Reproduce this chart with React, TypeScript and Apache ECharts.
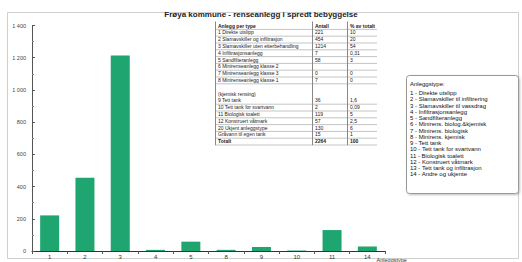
import React, { useEffect, useRef } from "react";
import * as echarts from "echarts";

const titleText = "Frøya kommune - renseanlegg i spredt bebyggelse";
const categories = ["1", "2", "3", "4", "5", "8", "9", "10", "11", "14"];
const counts = [221, 454, 1214, 7, 58, 7, 25, 3, 130, 28];
const xAxisName = "Anleggstype";

const tableHeader = ["Anlegg per type", "Antall", "% av totalt"];
const tableNames = [
  "1 Direkte utslipp",
  "2 Slamavskiller og infiltrasjon",
  "3 Slamavskiller uten etterbehandling",
  "4 Infiltrasjonsanlegg",
  "5 Sandfilteranlegg",
  "6 Minirenseanlegg klasse 2",
  "7 Minirenseanlegg klasse 3",
  "8 Minirenseanlegg klasse 1",
  "9 Tett tank",
  "10 Tett tank for svartvann",
  "11 Biologisk toalett",
  "12 Konstruert våtmark",
  "20 Ukjent anleggstype",
  "Gråvann til egen tank",
  "Totalt",
];
const tableCounts = ["221", "454", "1214", "7", "58", "", "0", "7", "36", "2", "119", "57", "130", "15", "2264"];
const tablePercents = ["10", "20", "54", "0,31", "3", "", "0", "0", "1,6", "0,09", "5", "2,5", "6", "1", "100"];
const tableRowLine = [1, 2, 3, 4, 5, 6, 7, 8, 11, 12, 13, 14, 15, 16, 17];
const tableWrapText = "(kjemisk rensing)";

const legendTitle = "Anleggstype:";
const legendLines = [
  "1 - Direkte utslipp",
  "2 - Slamavskiller til infiltrering",
  "3 - Slamavskiller til vassdrag",
  "4 - Infiltrasjonsanlegg",
  "5 - Sandfilteranlegg",
  "6 - Minirens. biolog.&kjemisk",
  "7 - Minirens. biologisk",
  "8 - Minirens. kjemisk",
  "9 - Tett tank",
  "10 - Tett tank for svartvann",
  "11 - Biologisk toalett",
  "12 - Konstruert våtmark",
  "13 - Tett tank og infiltrasjon",
  "14 - Andre og ukjente",
];

function fmt(v: number) {
  if (v >= 1000) {
    return Math.floor(v / 1000) + " " + String(v % 1000).padStart(3, "0");
  }
  return String(v);
}

export default function App() {
  const ref = useRef<HTMLDivElement>(null);
  useEffect(() => {
    if (!ref.current) return;
    const chart = echarts.init(ref.current, null, { renderer: "svg" });
    const font = "Liberation Sans, Arial, sans-serif";
    const graphics: any[] = [];
    // outer frame
    graphics.push({
      type: "rect",
      shape: { x: 7.5, y: 12.5, width: 511, height: 246 },
      style: { fill: "none", stroke: "#cfcfcf", lineWidth: 1 },
      silent: true,
      z: -1,
    });
    // table
    const tX = 215, tC1 = 312, tC2 = 347, tR = 377, tTop = 21.5, rowH = 6.8, y0 = 25.5;
    const tBottom = y0 + 17 * rowH + 4;
    graphics.push({
      type: "rect",
      shape: { x: tX, y: tTop, width: tR - tX, height: tBottom - tTop },
      style: { fill: "#fff", stroke: "none" },
      z: 5,
    });
    [tX, tC1, tC2].forEach((x) => {
      graphics.push({
        type: "line",
        shape: { x1: x + 0.5, y1: tTop, x2: x + 0.5, y2: tBottom },
        style: { stroke: "#555", lineWidth: 0.7 },
        z: 6,
      });
    });
    const addRow = (line: number, cells: string[], bold: boolean) => {
      const y = y0 + line * rowH;
      const xs = [tX + 3, tC1 + 3, tC2 + 3];
      cells.forEach((c, i) => {
        if (!c) return;
        graphics.push({
          type: "text",
          x: xs[i],
          y,
          style: {
            text: c,
            fontSize: 5,
            fontWeight: bold ? "bold" : "normal",
            fontFamily: font,
            fill: "#222",
            verticalAlign: "middle",
          },
          z: 7,
        });
      });
      graphics.push({
        type: "line",
        shape: { x1: tX, y1: y + rowH / 2 + 0.5, x2: tR, y2: y + rowH / 2 + 0.5 },
        style: { stroke: "#888", lineWidth: 0.5 },
        z: 6,
      });
    };
    addRow(0, tableHeader, true);
    tableNames.forEach((n, i) => {
      addRow(tableRowLine[i], [n, tableCounts[i], tablePercents[i]], i === tableNames.length - 1);
    });
    graphics.push({
      type: "text",
      x: tX + 3,
      y: y0 + 10 * rowH,
      style: { text: tableWrapText, fontSize: 5, fontFamily: font, fill: "#222", verticalAlign: "middle" },
      z: 7,
    });
    // legend box
    const lX = 406, lY = 75;
    graphics.push({
      type: "rect",
      shape: { x: lX + 0.5, y: lY + 0.5, width: 112, height: 118, r: 3 },
      style: {
        fill: "#fff",
        stroke: "#999",
        lineWidth: 1,
        shadowBlur: 2,
        shadowColor: "rgba(0,0,0,0.25)",
        shadowOffsetX: 1,
        shadowOffsetY: 1,
      },
      z: 5,
    });
    graphics.push({
      type: "text",
      x: lX + 4,
      y: 84,
      style: { text: legendTitle, fontSize: 6, fontFamily: font, fill: "#111", verticalAlign: "middle" },
      z: 6,
    });
    legendLines.forEach((t, i) => {
      graphics.push({
        type: "text",
        x: lX + 4,
        y: 93 + i * 6.25,
        style: { text: t, fontSize: 6, fontFamily: font, fill: "#111", verticalAlign: "middle" },
        z: 6,
      });
    });

    chart.setOption({
      animation: false,
      backgroundColor: "#ffffff",
      title: {
        text: titleText,
        left: "center",
        top: 8,
        padding: 2,
        textStyle: { fontSize: 8, fontWeight: "bold", fontFamily: font, color: "#222" },
      },
      grid: { left: 32, right: 137, top: 25.5, bottom: 11, containLabel: false, outerBoundsMode: "none" },
      xAxis: {
        type: "category",
        data: categories,
        name: xAxisName,
        nameLocation: "end",
        nameGap: -19,
        nameTextStyle: {
          fontSize: 5.5,
          fontFamily: font,
          color: "#333",
          align: "center",
          verticalAlign: "top",
          padding: [6, 0, 0, 0],
        },
        axisLine: { lineStyle: { color: "#333", width: 1 } },
        axisTick: { show: true, alignWithLabel: false, length: 3, lineStyle: { color: "#555" } },
        axisLabel: { fontSize: 6, fontFamily: font, color: "#333", margin: 3 },
      },
      yAxis: {
        type: "value",
        min: 0,
        max: 1400,
        interval: 200,
        axisLine: { show: true, lineStyle: { color: "#555", width: 1 } },
        axisTick: { show: true, inside: true, length: 3, lineStyle: { color: "#555" } },
        minorTick: { show: true, splitNumber: 2, length: 2, lineStyle: { color: "#888" } },
        splitLine: { show: false },
        axisLabel: { fontSize: 5.5, fontFamily: font, color: "#444", margin: 6, formatter: fmt },
      },
      series: [
        {
          type: "bar",
          data: counts,
          barWidth: 19,
          itemStyle: { color: "#1fa56f" },
        },
      ],
      graphic: { elements: graphics },
    });
    return () => chart.dispose();
  }, []);
  return (
    <div
      ref={ref}
      style={{ position: "fixed", left: 0, top: 0, width: 522, height: 262 }}
    />
  );
}
